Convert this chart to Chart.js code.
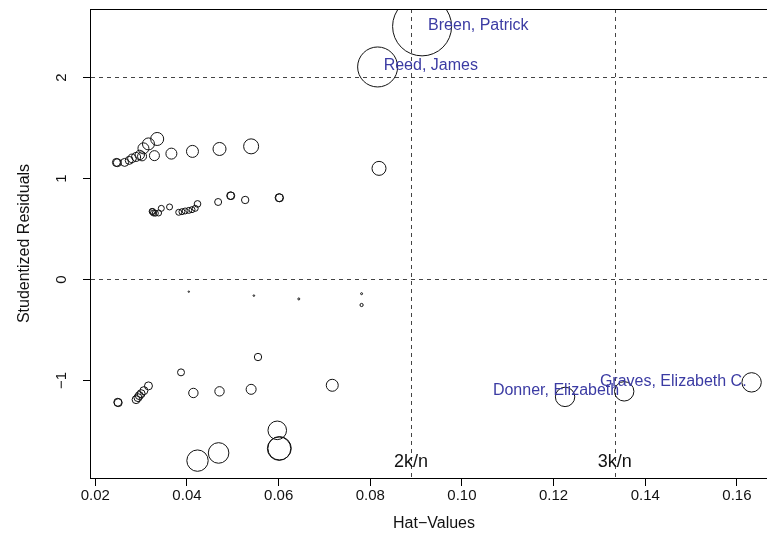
<!DOCTYPE html>
<html>
<head>
<meta charset="utf-8">
<script src="https://cdn.jsdelivr.net/npm/chart.js@4.4.0/dist/chart.umd.min.js"></script>
<style>
  html, body { margin: 0; padding: 0; overflow: hidden; background: #fff; }
</style>
</head>
<body>
<canvas id="chart" width="800" height="556"></canvas>
<script>
// ==========================
// DATA
// ==========================
const hatValues = [
  // upper band
  0.0246, 0.0248, 0.0264, 0.0274, 0.0280, 0.0289, 0.0297, 0.0302, 0.0305, 0.0316,
  0.0335, 0.0329, 0.0366, 0.0412, 0.0471, 0.0540, 0.0819,
  // middle band
  0.0324, 0.0325, 0.0327, 0.0331, 0.0338, 0.0344, 0.0362, 0.0382, 0.0389, 0.0396,
  0.0404, 0.0411, 0.0418, 0.0423, 0.0468, 0.0495, 0.0496, 0.0527, 0.0601, 0.0602,
  // near zero
  0.0404, 0.0546, 0.0644, 0.0781, 0.0781,
  // lower band
  0.0249, 0.0250, 0.0289, 0.0293, 0.0296, 0.0300, 0.0306, 0.0316, 0.0387, 0.0414,
  0.0471, 0.0540, 0.0555, 0.0717, 0.0423, 0.0469, 0.0597, 0.0601, 0.0602,
  0.1225, 0.1354, 0.1632,
  // top
  0.0913, 0.0816
];

const studResiduals = [
  1.151, 1.148, 1.151, 1.171, 1.191, 1.205, 1.225, 1.211, 1.290, 1.334,
  1.383, 1.218, 1.238, 1.260, 1.284, 1.310, 1.092,
  0.666, 0.664, 0.650, 0.648, 0.650, 0.696, 0.710, 0.657, 0.663, 0.670,
  0.676, 0.683, 0.696, 0.740, 0.759, 0.822, 0.820, 0.779, 0.802, 0.800,
  -0.129, -0.168, -0.201, -0.149, -0.261,
  -1.224, -1.228, -1.198, -1.178, -1.158, -1.139, -1.109, -1.062, -0.928, -1.132,
  -1.116, -1.096, -0.776, -1.056, -1.802, -1.726, -1.502, -1.683, -1.680,
  -1.171, -1.116, -1.027,
  2.498, 2.096
];

const cookD = [
  0.0055, 0.0055, 0.0055, 0.0055, 0.0064, 0.0070, 0.0076, 0.0070, 0.0104, 0.0124,
  0.0146, 0.0086, 0.0104, 0.0124, 0.0146, 0.0194, 0.0169,
  0.0031, 0.0031, 0.0031, 0.0031, 0.0031, 0.0031, 0.0031, 0.0031, 0.0031, 0.0031,
  0.0031, 0.0031, 0.0031, 0.0038, 0.0042, 0.0050, 0.0050, 0.0047, 0.0055, 0.0055,
  0.00017, 0.00022, 0.00034, 0.00034, 0.00088,
  0.0055, 0.0055, 0.0055, 0.0055, 0.0055, 0.0055, 0.0055, 0.0055, 0.0042, 0.0076,
  0.0076, 0.0086, 0.0047, 0.0124, 0.0394, 0.0365, 0.0298, 0.0472, 0.0472,
  0.0324, 0.0324, 0.0324,
  0.300, 0.1378
];

const idNames = ["Breen, Patrick", "Reed, James", "Donner, Elizabeth", "Graves, Elizabeth C."];
const idHat = [0.0913, 0.0816, 0.1354, 0.1632];

const xTicks = [0.02, 0.04, 0.06, 0.08, 0.10, 0.12, 0.14, 0.16];
const yTicks = [-1, 0, 1, 2];

const k = 2;
const n = 45;
const hLines = [-2, 0, 2];
const cutLabels = ["2k/n", "3k/n"];
const vLines = [2 * k / n, 3 * k / n];

// ==========================
// CONFIG
// ==========================
const FONT = '"Liberation Sans", Arial, Helvetica, sans-serif';
const X_MIN = 0.01906, X_MAX = 0.16874;
const Y_MIN = -1.974, Y_MAX = 2.670;
const MAX_R = 29.5;
const maxCook = Math.max(...cookD);

const points = hatValues.map((h, i) => ({
  x: h,
  y: studResiduals[i],
  r: MAX_R * Math.sqrt(cookD[i] / maxCook)
}));

const idIndex = idHat.map(h => hatValues.indexOf(h));

// ==========================
// PLUGIN: box, ref lines, labels
// ==========================
const rPlot = {
  id: "rPlot",
  beforeDatasetsDraw(chart) {
    const { ctx, chartArea: a } = chart;
    const xs = chart.scales.x, ys = chart.scales.y;
    ctx.save();
    ctx.beginPath();
    ctx.rect(a.left, a.top, a.right - a.left, a.bottom - a.top);
    ctx.clip();
    ctx.strokeStyle = "#444";
    ctx.lineWidth = 1;
    ctx.setLineDash([4, 4]);
    hLines.forEach(v => {
      const y = Math.round(ys.getPixelForValue(v)) + 0.5;
      ctx.beginPath(); ctx.moveTo(a.left, y); ctx.lineTo(a.right, y); ctx.stroke();
    });
    vLines.forEach(v => {
      const x = Math.round(xs.getPixelForValue(v)) + 0.5;
      ctx.beginPath(); ctx.moveTo(x, a.top); ctx.lineTo(x, a.bottom); ctx.stroke();
    });
    ctx.setLineDash([]);
    ctx.fillStyle = "#111";
    ctx.font = "18px " + FONT;
    ctx.textAlign = "center";
    ctx.textBaseline = "middle";
    vLines.forEach((v, i) => {
      ctx.fillText(cutLabels[i], xs.getPixelForValue(v), a.bottom - 16);
    });
    ctx.restore();
  },
  afterDatasetsDraw(chart) {
    const { ctx, chartArea: a } = chart;
    const ys = chart.scales.y;
    const meta = chart.getDatasetMeta(0);
    const midX = (X_MIN + X_MAX) / 2;

    ctx.save();
    // id labels
    ctx.fillStyle = "#3b3ba3";
    ctx.font = "16px " + FONT;
    ctx.textBaseline = "middle";
    idIndex.forEach((idx, i) => {
      const el = meta.data[idx];
      const right = hatValues[idx] < midX;
      ctx.textAlign = right ? "left" : "right";
      ctx.fillText(idNames[i], el.x + (right ? 6 : -5), el.y - 1);
    });

    // box
    ctx.strokeStyle = "#000";
    ctx.lineWidth = 1;
    ctx.strokeRect(a.left - 0.5, a.top + 0.5, a.right - a.left, a.bottom - a.top);

    // y axis ticks + rotated labels
    ctx.fillStyle = "#111";
    ctx.font = "15px " + FONT;
    ctx.textAlign = "center";
    ctx.textBaseline = "middle";
    yTicks.forEach(v => {
      const y = Math.round(ys.getPixelForValue(v)) + 0.5;
      ctx.beginPath(); ctx.moveTo(a.left - 8, y); ctx.lineTo(a.left, y); ctx.stroke();
      ctx.save();
      ctx.translate(62, y);
      ctx.rotate(-Math.PI / 2);
      ctx.fillText(v < 0 ? "\u2212" + Math.abs(v) : String(v), 0, 0);
      ctx.restore();
    });
    ctx.restore();
  }
};

// ==========================
// CHART
// ==========================
const chart = new Chart(document.getElementById("chart"), {
  type: "bubble",
  data: {
    datasets: [{
      data: points,
      backgroundColor: "rgba(0,0,0,0)",
      borderColor: "#111",
      borderWidth: 1,
      clip: 0
    }]
  },
  options: {
    responsive: false,
    animation: false,
    devicePixelRatio: 1,
    layout: { autoPadding: false, padding: { top: 9, right: 23, left: 0, bottom: 0 } },
    plugins: { legend: { display: false }, tooltip: { enabled: false } },
    scales: {
      x: {
        type: "linear",
        min: X_MIN,
        max: X_MAX,
        afterBuildTicks: s => { s.ticks = xTicks.map(v => ({ value: v })); },
        afterFit: s => { s.height = 78; },
        ticks: {
          callback: v => v.toFixed(2),
          font: { family: FONT, size: 15 },
          color: "#111",
          padding: 1,
          maxRotation: 0,
          autoSkip: false
        },
        grid: { drawOnChartArea: false, drawTicks: true, tickLength: 8, color: "#000" },
        border: { display: false },
        title: {
          display: true,
          text: "Hat\u2212Values",
          font: { family: FONT, size: 16 },
          color: "#111",
          padding: { top: 0, bottom: 23 }
        }
      },
      y: {
        type: "linear",
        min: Y_MIN,
        max: Y_MAX,
        afterBuildTicks: s => { s.ticks = yTicks.map(v => ({ value: v })); },
        afterFit: s => { s.width = 91; },
        ticks: { display: false },
        grid: { display: false },
        border: { display: false },
        title: {
          display: true,
          text: "Studentized Residuals",
          font: { family: FONT, size: 16 },
          color: "#111",
          padding: { top: 15, bottom: 0 }
        }
      }
    }
  },
  plugins: [rPlot]
});
</script>
</body>
</html>
